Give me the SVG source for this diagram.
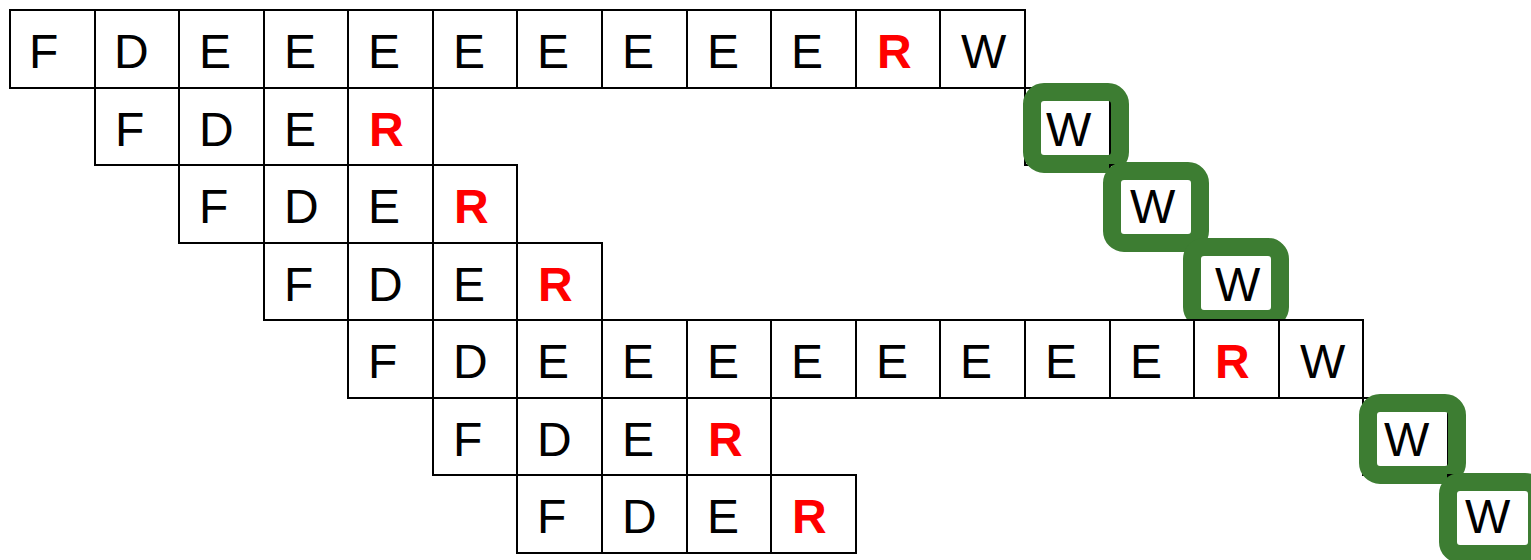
<svg xmlns="http://www.w3.org/2000/svg" width="1531" height="560" viewBox="0 0 1531 560">
<style>
.c{fill:#fff;stroke:#000;stroke-width:2}
.t{font-family:"Liberation Sans",Arial,sans-serif;font-size:48px;fill:#000}
.r{font-family:"Liberation Sans",Arial,sans-serif;font-size:48px;font-weight:bold;fill:#ff0000}
.g{fill:none;stroke:#3d7d32;stroke-width:18}
</style>
<rect width="1531" height="560" fill="#fff"/>
<g id="row0">
<rect class="c" x="10" y="10" width="85" height="78"/><text class="t" x="29" y="68">F</text>
<rect class="c" x="95" y="10" width="84" height="78"/><text class="t" x="114" y="68">D</text>
<rect class="c" x="179" y="10" width="85" height="78"/><text class="t" x="199" y="68">E</text>
<rect class="c" x="264" y="10" width="84" height="78"/><text class="t" x="284" y="68">E</text>
<rect class="c" x="348" y="10" width="85" height="78"/><text class="t" x="368" y="68">E</text>
<rect class="c" x="433" y="10" width="84" height="78"/><text class="t" x="453" y="68">E</text>
<rect class="c" x="517" y="10" width="85" height="78"/><text class="t" x="537" y="68">E</text>
<rect class="c" x="602" y="10" width="85" height="78"/><text class="t" x="622" y="68">E</text>
<rect class="c" x="687" y="10" width="84" height="78"/><text class="t" x="707" y="68">E</text>
<rect class="c" x="771" y="10" width="85" height="78"/><text class="t" x="791" y="68">E</text>
<rect class="c" x="856" y="10" width="84" height="78"/><text class="r" x="877" y="68">R</text>
<rect class="c" x="940" y="10" width="85" height="78"/><text class="t" x="961" y="68">W</text>
</g>
<g id="row1">
<rect class="c" x="95" y="88" width="84" height="77"/><text class="t" x="115" y="146">F</text>
<rect class="c" x="179" y="88" width="85" height="77"/><text class="t" x="199" y="146">D</text>
<rect class="c" x="264" y="88" width="84" height="77"/><text class="t" x="284" y="146">E</text>
<rect class="c" x="348" y="88" width="85" height="77"/><text class="r" x="369" y="146">R</text>
<rect class="c" x="1025" y="88" width="85" height="77"/>
<rect class="g" x="1032" y="92" width="88" height="72" rx="12"/>
<text class="t" x="1046" y="146">W</text>
</g>
<g id="row2">
<rect class="c" x="179" y="165" width="85" height="78"/><text class="t" x="199" y="223">F</text>
<rect class="c" x="264" y="165" width="84" height="78"/><text class="t" x="284" y="223">D</text>
<rect class="c" x="348" y="165" width="85" height="78"/><text class="t" x="368" y="223">E</text>
<rect class="c" x="433" y="165" width="84" height="78"/><text class="r" x="454" y="223">R</text>
<rect class="c" x="1110" y="165" width="84" height="78"/>
<rect class="g" x="1112" y="171" width="88" height="72" rx="12"/>
<text class="t" x="1130" y="223">W</text>
</g>
<g id="row3">
<rect class="c" x="264" y="243" width="84" height="77"/><text class="t" x="284" y="301">F</text>
<rect class="c" x="348" y="243" width="85" height="77"/><text class="t" x="368" y="301">D</text>
<rect class="c" x="433" y="243" width="84" height="77"/><text class="t" x="453" y="301">E</text>
<rect class="c" x="517" y="243" width="85" height="77"/><text class="r" x="538" y="301">R</text>
<rect class="c" x="1194" y="243" width="85" height="77"/>
<rect class="g" x="1192" y="247" width="88" height="72" rx="12"/>
<text class="t" x="1215" y="301">W</text>
</g>
<g id="row4">
<rect class="c" x="348" y="320" width="85" height="78"/><text class="t" x="368" y="378">F</text>
<rect class="c" x="433" y="320" width="84" height="78"/><text class="t" x="453" y="378">D</text>
<rect class="c" x="517" y="320" width="85" height="78"/><text class="t" x="537" y="378">E</text>
<rect class="c" x="602" y="320" width="85" height="78"/><text class="t" x="622" y="378">E</text>
<rect class="c" x="687" y="320" width="84" height="78"/><text class="t" x="707" y="378">E</text>
<rect class="c" x="771" y="320" width="85" height="78"/><text class="t" x="791" y="378">E</text>
<rect class="c" x="856" y="320" width="84" height="78"/><text class="t" x="876" y="378">E</text>
<rect class="c" x="940" y="320" width="85" height="78"/><text class="t" x="960" y="378">E</text>
<rect class="c" x="1025" y="320" width="85" height="78"/><text class="t" x="1045" y="378">E</text>
<rect class="c" x="1110" y="320" width="84" height="78"/><text class="t" x="1130" y="378">E</text>
<rect class="c" x="1194" y="320" width="85" height="78"/><text class="r" x="1215" y="378">R</text>
<rect class="c" x="1279" y="320" width="84" height="78"/><text class="t" x="1300" y="378">W</text>
</g>
<g id="row5">
<rect class="c" x="433" y="398" width="84" height="77"/><text class="t" x="453" y="456">F</text>
<rect class="c" x="517" y="398" width="85" height="77"/><text class="t" x="537" y="456">D</text>
<rect class="c" x="602" y="398" width="85" height="77"/><text class="t" x="622" y="456">E</text>
<rect class="c" x="687" y="398" width="84" height="77"/><text class="r" x="708" y="456">R</text>
<rect class="c" x="1363" y="398" width="85" height="77"/>
<rect class="g" x="1368" y="403" width="89" height="72" rx="12"/>
<text class="t" x="1384" y="456">W</text>
</g>
<g id="row6">
<rect class="c" x="517" y="475" width="85" height="78"/><text class="t" x="537" y="533">F</text>
<rect class="c" x="602" y="475" width="85" height="78"/><text class="t" x="622" y="533">D</text>
<rect class="c" x="687" y="475" width="84" height="78"/><text class="t" x="707" y="533">E</text>
<rect class="c" x="771" y="475" width="85" height="78"/><text class="r" x="792" y="533">R</text>
<rect class="c" x="1448" y="475" width="84" height="78"/>
<rect class="g" x="1448" y="482" width="89" height="72" rx="12"/>
<text class="t" x="1465" y="533">W</text>
</g>
</svg>
